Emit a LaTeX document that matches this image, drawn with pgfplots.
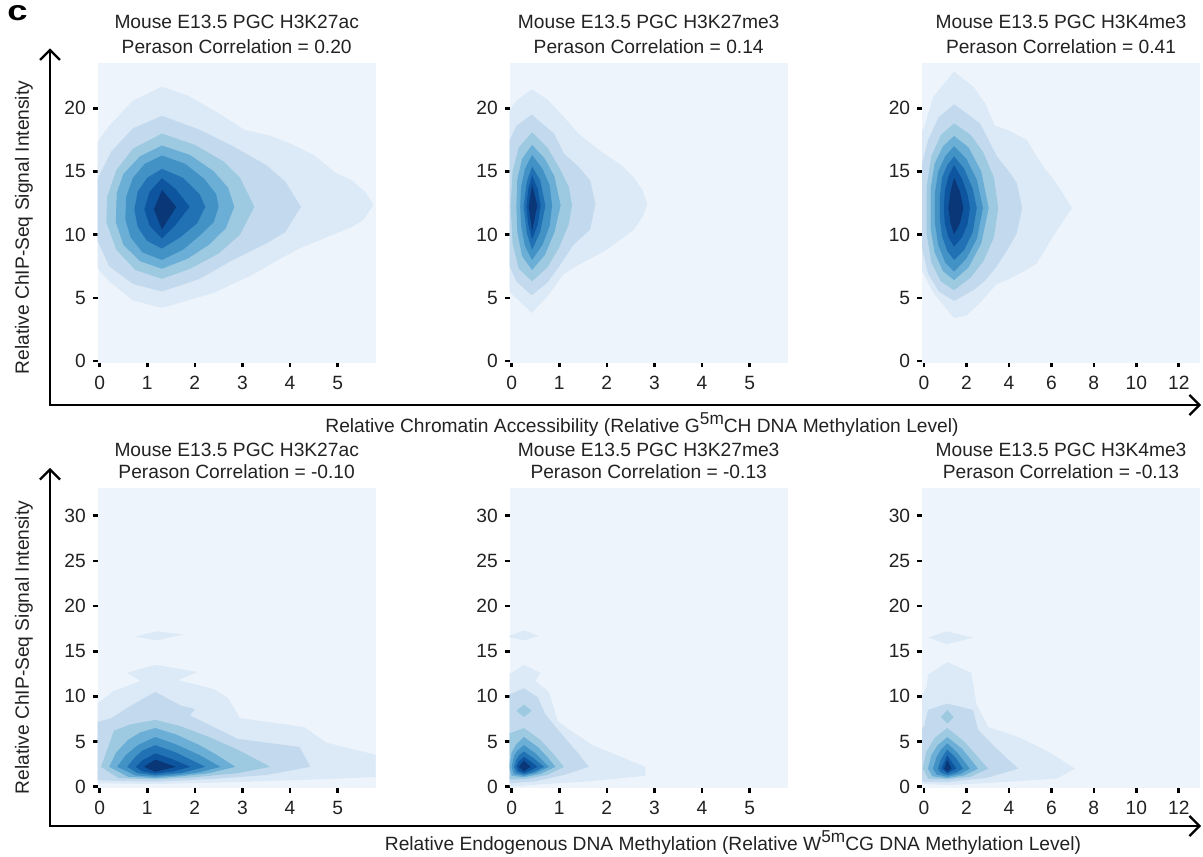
\documentclass[border=0pt]{standalone}
\usepackage{fontspec}
\setmainfont{Liberation Sans}
\usepackage{pgfplots}
\pgfplotsset{compat=1.18}
\usetikzlibrary{arrows.meta}

\definecolor{bg}{HTML}{EDF4FC}
\definecolor{c1}{HTML}{DCE9F6}
\definecolor{c2}{HTML}{C3DAEE}
\definecolor{c3}{HTML}{9ECAE1}
\definecolor{c4}{HTML}{6BAED6}
\definecolor{c5}{HTML}{4292C6}
\definecolor{c6}{HTML}{2171B5}
\definecolor{c7}{HTML}{0E55A0}
\definecolor{c8}{HTML}{0A3777}
\definecolor{txt}{HTML}{222222}

\pgfplotsset{
  dens/.style={
    scale only axis, width=139pt, height=150pt, anchor=south west,
    axis background/.style={fill=bg},
    axis line style={draw=none},
    tick pos=left, tick align=outside,
    major tick length=2.4pt,
    major tick style={black, line width=1.3pt},
    ticklabel style={font=\fontsize{9.6}{10}\selectfont, text=txt},
    xticklabel style={yshift=-1pt},
    /pgf/number format/assume math mode=true,
    title style={align=center, anchor=south, at={(0.5,1)}, yshift=-1.8pt,
      inner sep=0pt, text=txt},
  },
  toprow/.style={dens, ymin=-0.13, ymax=23.6, ytick={0,5,10,15,20},
    title style={font=\fontsize{9.6}{12.5}\selectfont}},
  botrow/.style={dens, ymin=-0.11, ymax=33.1, ytick={0,5,10,15,20,25,30},
    title style={font=\fontsize{9.6}{11.3}\selectfont}},
  narrowx/.style={xmin=-0.04, xmax=5.8, xtick={0,1,2,3,4,5}},
  widex/.style={xmin=-0.09, xmax=13.0, xtick={0,2,4,6,8,10,12}},
  lv/.style={fill=#1, draw=none},
}

\begin{document}
\begin{tikzpicture}
\path[use as bounding box] (0,0) rectangle (601.5pt,428pt);

% ---------------- top row ----------------
\begin{axis}[toprow, narrowx, at={(48.85pt,246.65pt)},
  title={Mouse E13.5 PGC H3K27ac\\Perason Correlation = 0.20}]
\addplot[lv=c1] coordinates {(1.31,21.7) (1.85,21.0) (2.5,19.6) (3.04,18.3) (3.6,17.8) (4.0,17.2) (4.5,16.3) (4.97,14.85) (5.3,14.3) (5.6,13.3) (5.75,12.35) (5.55,11.2) (5.3,10.6) (4.9,10.0) (4.2,8.9) (3.7,7.9) (3.2,6.8) (2.4,5.4) (1.31,4.2) (0.7,4.8) (0.2,6.3) (-0.2,8.0) (-0.3,12) (-0.2,16.5) (0.2,18.6) (0.7,20.6)} -- cycle;
\addplot[lv=c2] coordinates {(1.31,19.4) (2.1,18.3) (2.8,17.0) (3.5,15.5) (3.9,14.2) (4.23,12.2) (3.9,10.2) (3.5,9.3) (2.8,8.0) (2.1,6.5) (1.31,5.5) (0.7,6.1) (0.2,7.5) (-0.1,10) (-0.1,14) (0.25,16.6) (0.7,18.4)} -- cycle;
\addplot[lv=c3] coordinates {(1.31,18.0) (2.0,17.1) (2.6,15.8) (2.95,14.5) (3.25,12.2) (2.95,10.0) (2.5,8.5) (1.9,7.3) (1.31,6.5) (0.75,7.2) (0.35,8.8) (0.14,11.0) (0.16,13.0) (0.35,15.1) (0.7,16.8)} -- cycle;
\addplot[lv=c4] coordinates {(1.31,17.05) (1.9,16.3) (2.4,15.0) (2.7,13.7) (2.83,12.2) (2.65,10.5) (2.3,9.2) (1.85,8.1) (1.31,7.3) (0.85,7.9) (0.5,9.2) (0.34,11.0) (0.36,13.3) (0.5,14.8) (0.85,16.2)} -- cycle;
\addplot[lv=c5] coordinates {(1.31,16.26) (1.8,15.6) (2.2,14.4) (2.45,13.2) (2.5,12.2) (2.4,11.0) (2.1,9.9) (1.75,8.8) (1.31,8.0) (0.9,8.6) (0.65,9.8) (0.54,11.2) (0.56,13.0) (0.7,14.5) (0.95,15.6)} -- cycle;
\addplot[lv=c6] coordinates {(1.31,15.2) (1.75,14.5) (2.1,13.2) (2.22,12.2) (2.05,10.9) (1.7,9.8) (1.31,8.9) (1.0,9.5) (0.8,10.6) (0.73,12.0) (0.8,13.4) (1.0,14.5)} -- cycle;
\addplot[lv=c7] coordinates {(1.31,14.46) (1.6,13.6) (1.89,12.2) (1.6,10.8) (1.31,9.7) (1.05,10.7) (0.94,12.0) (1.05,13.4)} -- cycle;
\addplot[lv=c8] coordinates {(1.31,13.54) (1.61,12.2) (1.31,10.4) (1.14,12.0)} -- cycle;
\end{axis}

\begin{axis}[toprow, narrowx, at={(254.85pt,246.65pt)},
  title={Mouse E13.5 PGC H3K27me3\\Perason Correlation = 0.14}]
\addplot[lv=c1] coordinates {(0.42,21.5) (0.75,20.7) (1.1,19.3) (1.4,18.0) (1.87,16.6) (2.3,15.5) (2.57,14.5) (2.75,13.5) (2.85,12.4) (2.75,11.4) (2.57,10.4) (2.0,8.8) (1.4,7.6) (1.1,6.9) (0.75,5.1) (0.42,3.8) (0.15,4.8) (-0.2,6) (-0.2,19) (0.1,20.6)} -- cycle;
\addplot[lv=c2] coordinates {(0.42,19.5) (0.89,18.0) (1.1,16.4) (1.4,15.4) (1.65,14.3) (1.76,12.4) (1.65,10.4) (1.3,9.2) (1.0,7.5) (0.75,6.2) (0.42,5.2) (0.1,6.3) (-0.1,8) (-0.1,17) (0.1,18.6)} -- cycle;
\addplot[lv=c3] coordinates {(0.43,18.1) (0.75,16.9) (1.0,15.3) (1.2,13.8) (1.27,12.3) (1.2,10.8) (1.0,9.0) (0.75,7.4) (0.43,6.3) (0.15,7.3) (0.02,9.3) (-0.02,12.2) (0.02,15.0) (0.15,16.9)} -- cycle;
\addplot[lv=c4] coordinates {(0.43,17.1) (0.7,16.0) (0.9,14.6) (1.03,12.3) (0.9,10.2) (0.7,8.4) (0.43,7.2) (0.22,8.3) (0.12,10.2) (0.1,12.2) (0.12,14.4) (0.22,16.0)} -- cycle;
\addplot[lv=c5] coordinates {(0.43,16.3) (0.65,15.2) (0.8,13.9) (0.85,12.3) (0.8,10.7) (0.65,9.2) (0.43,8.0) (0.28,9.1) (0.2,10.7) (0.18,12.2) (0.2,13.8) (0.28,15.2)} -- cycle;
\addplot[lv=c6] coordinates {(0.43,15.4) (0.6,14.3) (0.71,12.3) (0.6,10.2) (0.43,8.8) (0.32,10.1) (0.25,12.2) (0.32,14.2)} -- cycle;
\addplot[lv=c7] coordinates {(0.43,14.7) (0.55,13.6) (0.61,12.3) (0.55,10.8) (0.43,9.6) (0.35,10.8) (0.31,12.2) (0.35,13.6)} -- cycle;
\addplot[lv=c8] coordinates {(0.43,14.0) (0.54,12.3) (0.43,10.3) (0.36,12.2)} -- cycle;
\end{axis}

\begin{axis}[toprow, widex, at={(461pt,246.65pt)},
  title={Mouse E13.5 PGC H3K4me3\\Perason Correlation = 0.41}]
\addplot[lv=c1] coordinates {(1.42,22.9) (2.33,21.7) (2.88,20.4) (3.35,18.6) (3.9,18.3) (4.84,17.5) (5.3,16.2) (5.7,15.2) (6.18,14.2) (6.6,13.1) (6.97,12.1) (6.6,11.2) (6.18,10.1) (5.7,8.8) (5.3,7.7) (4.6,7.0) (3.9,6.4) (3.43,6.1) (2.64,4.6) (2.0,3.6) (1.42,3.4) (0.44,5.4) (0.0,6.9) (-0.3,7.5) (-0.3,18) (0.0,18.4) (0.44,20.9)} -- cycle;
\addplot[lv=c2] coordinates {(1.42,20.3) (2.0,19.6) (2.64,18.8) (3.1,17.3) (3.43,16.2) (4.0,15.0) (4.37,14.1) (4.63,12.1) (4.37,10.1) (4.0,9.0) (3.43,7.5) (2.9,6.4) (2.33,5.6) (1.42,4.75) (0.7,5.5) (0.2,6.9) (-0.1,9) (-0.1,15.5) (0.2,17.5) (0.7,19.3)} -- cycle;
\addplot[lv=c3] coordinates {(1.42,18.8) (2.2,17.9) (2.8,16.5) (3.3,14.5) (3.5,12.1) (3.3,9.8) (2.8,7.9) (2.2,6.6) (1.42,5.6) (0.8,6.3) (0.35,7.8) (0.13,10.0) (0.13,13.8) (0.35,16.2) (0.8,17.9)} -- cycle;
\addplot[lv=c4] coordinates {(1.42,17.8) (2.1,16.9) (2.7,15.0) (3.05,12.1) (2.7,9.3) (2.1,7.4) (1.42,6.4) (0.9,7.1) (0.5,8.6) (0.31,10.5) (0.31,13.6) (0.5,15.6) (0.9,17.0)} -- cycle;
\addplot[lv=c5] coordinates {(1.42,17.0) (2.0,16.0) (2.5,14.3) (2.78,12.1) (2.5,9.7) (2.0,8.1) (1.42,7.07) (1.0,7.8) (0.67,9.2) (0.52,10.9) (0.52,13.3) (0.67,15.0) (1.0,16.2)} -- cycle;
\addplot[lv=c6] coordinates {(1.42,16.2) (1.9,15.2) (2.3,13.6) (2.49,12.1) (2.3,10.2) (1.9,8.8) (1.42,8.0) (1.1,8.7) (0.85,9.9) (0.75,11.2) (0.75,13.0) (0.85,14.5) (1.1,15.5)} -- cycle;
\addplot[lv=c7] coordinates {(1.42,15.5) (1.8,14.4) (2.05,13.2) (2.17,12.1) (2.05,10.8) (1.8,9.8) (1.42,9.05) (1.15,9.8) (0.98,10.9) (0.94,12.1) (0.98,13.4) (1.15,14.6)} -- cycle;
\addplot[lv=c8] coordinates {(1.42,14.5) (1.7,13.4) (1.86,12.1) (1.7,10.9) (1.42,10.0) (1.25,10.9) (1.15,12.1) (1.25,13.4)} -- cycle;
\end{axis}

% ---------------- bottom row ----------------
\begin{axis}[botrow, narrowx, at={(48.85pt,34.15pt)},
  title={Mouse E13.5 PGC H3K27ac\\Perason Correlation = -0.10}]
\addplot[lv=c1] coordinates {(1.17,13.5) (2.05,12.7) (1.65,11.8) (2.4,10.8) (2.7,9.8) (2.95,7.6) (4.3,6.6) (4.75,4.9) (5.9,3.4) (5.9,1.1) (4.5,0.8) (2.8,0.5) (1.2,0.3) (0.3,0.35) (-0.3,0.4) (-0.3,9.0) (0.0,9.4) (0.3,10.6) (0.86,11.7) (0.58,12.6)} -- cycle;
\addplot[lv=c1] coordinates {(0.75,16.6) (1.2,17.2) (1.75,16.85) (1.2,16.2)} -- cycle;
\addplot[lv=c2] coordinates {(1.17,10.5) (1.7,9.0) (2.0,8.6) (1.9,7.9) (2.9,5.3) (4.2,4.4) (4.43,2.2) (3.5,1.3) (2.5,0.9) (1.2,0.55) (0.3,0.65) (-0.3,0.8) (-0.3,6.8) (0.05,7.3) (0.25,7.6) (0.6,8.8)} -- cycle;
\addplot[lv=c3] coordinates {(1.17,7.4) (1.7,6.7) (2.3,5.5) (2.9,4.1) (3.59,2.2) (2.9,1.5) (2.0,1.05) (1.17,0.8) (0.4,0.95) (0.03,2.2) (0.16,4.1) (0.3,6.2) (0.65,6.9)} -- cycle;
\addplot[lv=c4] coordinates {(1.17,6.5) (1.6,5.8) (2.1,4.6) (2.5,3.4) (2.85,2.2) (2.3,1.5) (1.7,1.15) (1.17,0.95) (0.6,1.1) (0.2,2.2) (0.35,3.8) (0.6,5.2) (0.85,6.0)} -- cycle;
\addplot[lv=c5] coordinates {(1.17,5.5) (1.6,4.7) (2.1,3.5) (2.54,2.2) (2.1,1.6) (1.6,1.25) (1.17,1.1) (0.75,1.25) (0.37,2.2) (0.55,3.5) (0.8,4.6)} -- cycle;
\addplot[lv=c6] coordinates {(1.17,4.6) (1.6,3.8) (2.22,2.2) (1.75,1.55) (1.17,1.25) (0.8,1.5) (0.58,2.2) (0.75,3.3) (0.9,4.0)} -- cycle;
\addplot[lv=c7] coordinates {(1.17,3.7) (1.5,3.1) (1.91,2.2) (1.55,1.7) (1.17,1.45) (0.9,1.7) (0.76,2.2) (0.9,2.9)} -- cycle;
\addplot[lv=c8] coordinates {(1.17,3.0) (1.6,2.2) (1.17,1.65) (0.93,2.2)} -- cycle;
\end{axis}

\begin{axis}[botrow, narrowx, at={(254.85pt,34.15pt)},
  title={Mouse E13.5 PGC H3K27me3\\Perason Correlation = -0.13}]
\addplot[lv=c1] coordinates {(0.26,13.5) (0.6,12.6) (0.5,11.7) (0.78,10.5) (0.9,8.5) (0.96,7.3) (1.3,6.0) (1.7,4.6) (2.81,2.2) (2.81,1.2) (1.6,0.6) (0.57,0.25) (0.0,0.0) (-0.3,0.2) (-0.3,12.4) (0.0,12.6)} -- cycle;
\addplot[lv=c1] coordinates {(-0.1,16.6) (0.26,17.3) (0.57,16.7) (0.26,16.2)} -- cycle;
\addplot[lv=c2] coordinates {(0.26,10.9) (0.55,9.9) (0.71,8.0) (0.99,6.2) (1.4,3.7) (1.62,2.2) (1.1,1.3) (0.5,0.6) (0.0,0.4) (-0.3,0.5) (-0.3,10.0) (0.0,10.3)} -- cycle;
\addplot[lv=c3] coordinates {(0.26,9.1) (0.42,8.4) (0.26,7.7) (0.1,8.4)} -- cycle;
\addplot[lv=c3] coordinates {(0.26,6.5) (0.6,5.2) (0.85,3.8) (1.1,2.2) (0.75,1.3) (0.3,0.85) (0.0,0.8) (-0.3,0.9) (-0.3,5.5) (0.0,6.0)} -- cycle;
\addplot[lv=c4] coordinates {(0.26,5.5) (0.55,4.4) (0.75,3.3) (0.92,2.2) (0.6,1.4) (0.26,1.05) (0.0,1.2) (-0.05,2.2) (0.0,3.8) (0.1,4.7)} -- cycle;
\addplot[lv=c5] coordinates {(0.26,4.6) (0.5,3.7) (0.78,2.2) (0.5,1.5) (0.26,1.2) (0.05,1.4) (0.0,2.2) (0.05,3.4) (0.12,4.0)} -- cycle;
\addplot[lv=c6] coordinates {(0.26,3.9) (0.45,3.2) (0.68,2.2) (0.45,1.6) (0.26,1.35) (0.1,1.6) (0.05,2.2) (0.1,3.0) (0.16,3.5)} -- cycle;
\addplot[lv=c7] coordinates {(0.26,3.3) (0.4,2.8) (0.54,2.2) (0.38,1.75) (0.26,1.5) (0.15,1.75) (0.1,2.2) (0.15,2.8)} -- cycle;
\addplot[lv=c8] coordinates {(0.26,2.9) (0.4,2.2) (0.26,1.7) (0.15,2.2)} -- cycle;
\end{axis}

\begin{axis}[botrow, widex, at={(461pt,34.15pt)},
  title={Mouse E13.5 PGC H3K4me3\\Perason Correlation = -0.13}]
\addplot[lv=c1] coordinates {(1.1,13.8) (2.23,12.6) (2.47,9.2) (3.02,6.6) (4.44,5.5) (5.85,3.9) (7.11,2.0) (6.26,0.9) (2.96,0.4) (1.1,0.2) (0.0,0.3) (-0.3,0.4) (-0.3,8.9) (0.13,11.1) (0.2,12.4)} -- cycle;
\addplot[lv=c1] coordinates {(0.2,16.5) (1.07,17.2) (2.33,16.5) (1.07,15.8)} -- cycle;
\addplot[lv=c2] coordinates {(1.1,9.2) (2.31,8.5) (2.55,6.3) (3.34,4.4) (4.44,2.0) (3.0,1.0) (1.1,0.5) (0.0,0.55) (-0.3,0.6) (-0.3,6.3) (0.0,6.6) (0.19,8.5)} -- cycle;
\addplot[lv=c3] coordinates {(1.1,8.5) (1.4,7.7) (1.1,7.0) (0.8,7.7)} -- cycle;
\addplot[lv=c3] coordinates {(1.1,6.5) (1.9,5.0) (3.02,2.0) (2.2,1.1) (1.1,0.8) (0.2,0.9) (-0.05,2.0) (0.1,3.8) (0.5,5.4)} -- cycle;
\addplot[lv=c4] coordinates {(1.1,5.5) (1.8,4.2) (2.55,2.0) (1.9,1.25) (1.1,0.95) (0.4,1.15) (0.19,2.0) (0.35,3.5) (0.65,4.6)} -- cycle;
\addplot[lv=c5] coordinates {(1.1,4.8) (1.6,3.7) (2.16,2.0) (1.7,1.4) (1.1,1.1) (0.6,1.35) (0.42,2.0) (0.6,3.3) (0.8,4.1)} -- cycle;
\addplot[lv=c6] coordinates {(1.1,4.1) (1.5,3.2) (1.84,2.0) (1.5,1.55) (1.1,1.3) (0.8,1.55) (0.66,2.0) (0.8,3.0) (0.95,3.6)} -- cycle;
\addplot[lv=c7] coordinates {(1.1,3.5) (1.52,2.0) (1.1,1.5) (0.82,2.0)} -- cycle;
\addplot[lv=c8] coordinates {(1.1,3.0) (1.3,2.0) (1.1,1.65) (0.95,2.0)} -- cycle;
\end{axis}

% ---------------- frame arrows and shared labels ----------------
\draw[line width=1.15pt, {Straight Barb[length=5pt,width=10pt]}-{Straight Barb[length=5pt,width=10pt]}]
  (25pt,403.85pt) -- (25pt,225.5pt) -- (600.5pt,225.5pt);
\draw[line width=1.15pt, {Straight Barb[length=5pt,width=10pt]}-{Straight Barb[length=5pt,width=10pt]}]
  (25pt,194pt) -- (25pt,15pt) -- (600.5pt,15pt);

\node[rotate=90, text=txt, font=\fontsize{9.6}{10}\selectfont] at (12pt,314.25pt) {Relative ChIP-Seq Signal Intensity};
\node[rotate=90, text=txt, font=\fontsize{9.6}{10}\selectfont] at (12pt,104.25pt) {Relative ChIP-Seq Signal Intensity};
\node[anchor=base, text=txt, font=\fontsize{9.6}{10}\selectfont] at (321pt,211.5pt)
  {Relative Chromatin Accessibility (Relative G\raisebox{4pt}{\fontsize{8.6}{8.6}\selectfont 5m}CH DNA Methylation Level)};
\node[anchor=base, text=txt, font=\fontsize{9.6}{10}\selectfont] at (366.5pt,3pt)
  {Relative Endogenous DNA Methylation (Relative W\raisebox{4pt}{\fontsize{8.6}{8.6}\selectfont 5m}CG DNA Methylation Level)};
\node[anchor=base, xscale=1.3, font=\bfseries\fontsize{14}{14}\selectfont] at (8.75pt,417.6pt) {c};
\end{tikzpicture}
\end{document}
